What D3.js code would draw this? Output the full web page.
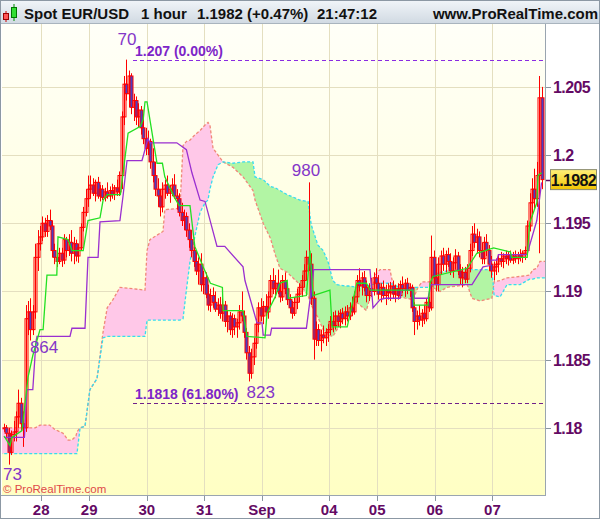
<!DOCTYPE html>
<html>
<head>
<meta charset="utf-8">
<script src="https://cdn.jsdelivr.net/npm/d3@7"></script>
<style>
body{margin:0;background:#fff;}
svg{display:block;font-family:"Liberation Sans",Arial,sans-serif;}
</style>
</head>
<body>
<svg id="chart" width="600" height="519"></svg>
<script>
// hourly bars, [open, high, low, close]
var bars = [
 [1.1800,1.1803,1.1797,1.1800],[1.1800,1.1802,1.1792,1.1796],[1.1796,1.1800,1.1773,1.1782],[1.1782,1.1798,1.1780,1.1795],
 [1.1795,1.1805,1.1790,1.1797],[1.1797,1.1812,1.1790,1.1808],[1.1808,1.1828,1.1800,1.1818],[1.1818,1.1822,1.1798,1.1803],
 [1.1803,1.1812,1.1786,1.1800],[1.1800,1.1890,1.1797,1.1880],[1.1880,1.1893,1.1868,1.1885],[1.1885,1.1895,1.1864,1.1872],
 [1.1872,1.1890,1.1868,1.1885],[1.1885,1.1935,1.1880,1.1925],[1.1925,1.1945,1.1915,1.1935],[1.1935,1.1948,1.1930,1.1940],
 [1.1940,1.1955,1.1937,1.1950],[1.1950,1.1954,1.1940,1.1944],[1.1944,1.1956,1.1940,1.1952],[1.1952,1.1960,1.1945,1.1948],
 [1.1948,1.1952,1.1925,1.1930],[1.1930,1.1935,1.1920,1.1925],[1.1925,1.1930,1.1918,1.1922],[1.1922,1.1932,1.1920,1.1928],
 [1.1928,1.1932,1.1918,1.1923],[1.1923,1.1942,1.1920,1.1938],[1.1938,1.1940,1.1925,1.1930],[1.1930,1.1942,1.1926,1.1936],
 [1.1936,1.1945,1.1922,1.1928],[1.1928,1.1940,1.1920,1.1935],[1.1935,1.1938,1.1922,1.1926],[1.1926,1.1935,1.1921,1.1932],
 [1.1932,1.1950,1.1930,1.1947],[1.1947,1.1962,1.1944,1.1958],[1.1958,1.1975,1.1955,1.1968],[1.1968,1.1985,1.1962,1.1975],
 [1.1975,1.1985,1.1968,1.1978],[1.1978,1.1983,1.1970,1.1972],[1.1972,1.1982,1.1966,1.1980],[1.1980,1.1984,1.1968,1.1970],
 [1.1970,1.1978,1.1966,1.1975],[1.1975,1.1978,1.1967,1.1969],[1.1969,1.1976,1.1966,1.1973],[1.1973,1.1980,1.1968,1.1970],
 [1.1970,1.1977,1.1966,1.1974],[1.1974,1.1979,1.1968,1.1971],[1.1971,1.1978,1.1967,1.1976],[1.1976,1.1982,1.1970,1.1973],
 [1.1973,1.1988,1.1970,1.1985],[1.1985,1.2032,1.1975,1.2028],[1.2028,1.2058,1.2022,1.2052],[1.2052,1.2070,1.2040,1.2045],
 [1.2045,1.2062,1.2035,1.2058],[1.2058,1.2060,1.2030,1.2035],[1.2035,1.2045,1.2025,1.2040],[1.2040,1.2043,1.2022,1.2028],
 [1.2028,1.2038,1.2020,1.2033],[1.2033,1.2036,1.2015,1.2020],[1.2020,1.2030,1.2008,1.2012],[1.2012,1.2020,1.2000,1.2005],
 [1.2005,1.2018,1.2000,1.2010],[1.2010,1.2012,1.1990,1.1995],[1.1995,1.2005,1.1980,1.1985],[1.1985,1.1995,1.1970,1.1975],
 [1.1975,1.1983,1.1962,1.1970],[1.1970,1.1975,1.1955,1.1962],[1.1962,1.1980,1.1958,1.1975],[1.1975,1.1982,1.1968,1.1978],
 [1.1978,1.1985,1.1970,1.1972],[1.1972,1.1978,1.1965,1.1975],[1.1975,1.1983,1.1970,1.1978],[1.1978,1.1986,1.1968,1.1970],
 [1.1970,1.1975,1.1960,1.1968],[1.1968,1.1972,1.1955,1.1958],[1.1958,1.1965,1.1948,1.1952],[1.1952,1.1960,1.1945,1.1955],
 [1.1955,1.1958,1.1940,1.1945],[1.1945,1.1950,1.1932,1.1938],[1.1938,1.1945,1.1925,1.1930],[1.1930,1.1935,1.1918,1.1922],
 [1.1922,1.1930,1.1912,1.1915],[1.1915,1.1925,1.1905,1.1920],[1.1920,1.1928,1.1900,1.1905],[1.1905,1.1915,1.1898,1.1910],
 [1.1910,1.1914,1.1895,1.1898],[1.1898,1.1905,1.1886,1.1890],[1.1890,1.1902,1.1885,1.1897],[1.1897,1.1903,1.1888,1.1892],
 [1.1892,1.1900,1.1885,1.1887],[1.1887,1.1895,1.1882,1.1890],[1.1890,1.1896,1.1880,1.1884],[1.1884,1.1895,1.1878,1.1890],
 [1.1890,1.1893,1.1874,1.1878],[1.1878,1.1886,1.1870,1.1882],[1.1882,1.1885,1.1868,1.1872],[1.1872,1.1884,1.1866,1.1880],
 [1.1880,1.1883,1.1868,1.1874],[1.1874,1.1880,1.1866,1.1877],[1.1877,1.1890,1.1872,1.1885],[1.1885,1.1900,1.1878,1.1882],
 [1.1882,1.1886,1.1866,1.1870],[1.1870,1.1873,1.1850,1.1855],[1.1855,1.1860,1.1834,1.1840],[1.1840,1.1858,1.1836,1.1852],
 [1.1852,1.1866,1.1846,1.1862],[1.1862,1.1880,1.1858,1.1876],[1.1876,1.1892,1.1870,1.1888],[1.1888,1.1895,1.1878,1.1882],
 [1.1882,1.1893,1.1876,1.1889],[1.1889,1.1898,1.1882,1.1885],[1.1885,1.1900,1.1880,1.1896],[1.1896,1.1912,1.1890,1.1908],
 [1.1908,1.1917,1.1898,1.1902],[1.1902,1.1912,1.1895,1.1906],[1.1906,1.1916,1.1898,1.1900],[1.1900,1.1908,1.1892,1.1896],
 [1.1896,1.1912,1.1893,1.1908],[1.1908,1.1914,1.1898,1.1902],[1.1902,1.1906,1.1890,1.1894],[1.1894,1.1898,1.1884,1.1888],
 [1.1888,1.1893,1.1880,1.1884],[1.1884,1.1896,1.1882,1.1892],[1.1892,1.1902,1.1887,1.1898],[1.1898,1.1906,1.1892,1.1903],
 [1.1903,1.1912,1.1896,1.1908],[1.1908,1.1920,1.1903,1.1915],[1.1915,1.1930,1.1908,1.1925],[1.1925,1.1980,1.1915,1.1920],
 [1.1920,1.1928,1.1890,1.1895],[1.1895,1.1900,1.1850,1.1865],[1.1865,1.1878,1.1860,1.1872],[1.1872,1.1876,1.1860,1.1864],
 [1.1864,1.1872,1.1856,1.1868],[1.1868,1.1875,1.1862,1.1866],[1.1866,1.1873,1.1860,1.1870],[1.1870,1.1876,1.1863,1.1872],
 [1.1872,1.1882,1.1868,1.1878],[1.1878,1.1885,1.1870,1.1875],[1.1875,1.1886,1.1872,1.1882],[1.1882,1.1886,1.1874,1.1878],
 [1.1878,1.1887,1.1873,1.1884],[1.1884,1.1888,1.1876,1.1880],[1.1880,1.1889,1.1875,1.1885],[1.1885,1.1890,1.1878,1.1882],
 [1.1882,1.1892,1.1879,1.1888],[1.1888,1.1896,1.1882,1.1885],[1.1885,1.1900,1.1883,1.1896],[1.1896,1.1912,1.1892,1.1908],
 [1.1908,1.1917,1.1900,1.1904],[1.1904,1.1914,1.1897,1.1910],[1.1910,1.1915,1.1900,1.1903],[1.1903,1.1908,1.1892,1.1897],
 [1.1897,1.1906,1.1893,1.1902],[1.1902,1.1910,1.1896,1.1900],[1.1900,1.1914,1.1897,1.1910],[1.1910,1.1917,1.1902,1.1906],
 [1.1906,1.1912,1.1894,1.1898],[1.1898,1.1906,1.1892,1.1903],[1.1903,1.1908,1.1895,1.1897],[1.1897,1.1905,1.1890,1.1901],
 [1.1901,1.1906,1.1894,1.1899],[1.1899,1.1907,1.1893,1.1904],[1.1904,1.1908,1.1895,1.1898],[1.1898,1.1905,1.1892,1.1902],
 [1.1902,1.1906,1.1894,1.1897],[1.1897,1.1908,1.1895,1.1905],[1.1905,1.1911,1.1899,1.1902],[1.1902,1.1909,1.1896,1.1906],
 [1.1906,1.1910,1.1898,1.1901],[1.1901,1.1906,1.1896,1.1903],[1.1903,1.1905,1.1885,1.1888],[1.1888,1.1892,1.1868,1.1878],
 [1.1878,1.1886,1.1872,1.1882],[1.1882,1.1890,1.1875,1.1879],[1.1879,1.1887,1.1874,1.1884],[1.1884,1.1890,1.1876,1.1880],
 [1.1880,1.1895,1.1878,1.1892],[1.1892,1.1896,1.1885,1.1888],[1.1888,1.1941,1.1886,1.1925],[1.1925,1.1930,1.1905,1.1910],
 [1.1910,1.1920,1.1900,1.1905],[1.1905,1.1925,1.1900,1.1920],[1.1920,1.1930,1.1912,1.1926],[1.1926,1.1932,1.1915,1.1920],
 [1.1920,1.1930,1.1914,1.1927],[1.1927,1.1932,1.1918,1.1922],[1.1922,1.1928,1.1912,1.1915],[1.1915,1.1925,1.1910,1.1921],
 [1.1921,1.1931,1.1916,1.1926],[1.1926,1.1929,1.1912,1.1915],[1.1915,1.1920,1.1905,1.1910],[1.1910,1.1918,1.1903,1.1914],
 [1.1914,1.1918,1.1906,1.1909],[1.1909,1.1920,1.1906,1.1917],[1.1917,1.1935,1.1914,1.1930],[1.1930,1.1948,1.1926,1.1942],
 [1.1942,1.1950,1.1932,1.1936],[1.1936,1.1946,1.1928,1.1940],[1.1940,1.1944,1.1925,1.1930],[1.1930,1.1936,1.1920,1.1924],
 [1.1924,1.1940,1.1920,1.1936],[1.1936,1.1942,1.1926,1.1930],[1.1930,1.1934,1.1915,1.1920],[1.1920,1.1926,1.1910,1.1915],
 [1.1915,1.1922,1.1908,1.1918],[1.1918,1.1924,1.1912,1.1920],[1.1920,1.1927,1.1914,1.1924],[1.1924,1.1929,1.1918,1.1922],
 [1.1922,1.1928,1.1917,1.1926],[1.1926,1.1930,1.1920,1.1924],[1.1924,1.1929,1.1919,1.1927],[1.1927,1.1930,1.1921,1.1923],
 [1.1923,1.1929,1.1920,1.1926],[1.1926,1.1930,1.1921,1.1924],[1.1924,1.1929,1.1920,1.1927],[1.1927,1.1931,1.1922,1.1925],
 [1.1925,1.1930,1.1921,1.1928],[1.1928,1.1933,1.1923,1.1930],[1.1930,1.1952,1.1928,1.1948],[1.1948,1.1972,1.1944,1.1965],
 [1.1965,1.1983,1.1955,1.1975],[1.1975,1.1990,1.1960,1.1968],[1.1968,1.1995,1.1962,1.1985],[1.1985,1.2058,1.1928,1.2042],
 [1.2042,1.2050,1.1975,1.1982]
];

// conversion line (green) and base line (purple): [bar, price] vertices
var tenkan = [
 [0,1.1794],[2.5,1.1787],[3.3,1.1793],[7.5,1.1798],[10,1.1837],[12,1.1853],[15,1.1872],[16.3,1.1872],[17.9,1.1912],
 [22,1.1912],[22.5,1.1940],[26.7,1.1938],[28.3,1.1930],[33,1.1930],[35,1.1952],[40,1.1954],[41.3,1.1967],[43,1.1971],
 [48.5,1.1971],[51.7,1.2016],[56.7,1.2021],[58,1.2026],[58.75,1.2039],[59.6,1.2039],[63.75,1.1994],[66,1.1994],
 [67,1.1984],[71,1.1969],[73,1.1963],[77.5,1.1963],[79.5,1.1933],[83,1.1918],[86,1.1906],[91,1.1903],[91.3,1.1886],
 [99.6,1.1886],[101.25,1.1867],[108.75,1.1866],[109.6,1.1884],[113,1.1896],[115,1.1906],[118,1.1908],[118.5,1.1895],
 [126,1.1897],[127.5,1.1930],[128.75,1.1897],[135.8,1.1901],[136.7,1.1874],[143,1.1874],[147,1.1906],[151,1.1906],
 [152.5,1.1901],[170.4,1.1901],[170.8,1.1890],[176.7,1.1890],[177.5,1.1906],[178.75,1.1911],[193,1.1917],[197,1.1928],
 [204,1.1932],[211,1.1929],[211.5,1.1925],[218,1.1925],[219,1.1950],[222,1.1965],[222.5,1.1985],[224,1.1987]
];
var kijun = [
 [0,1.1793],[8.5,1.1793],[9.6,1.1828],[12,1.1828],[13.3,1.1863],[13.75,1.1867],[27.5,1.1867],[28.3,1.1873],
 [33.75,1.1873],[35,1.1925],[39.2,1.1925],[40,1.1951],[48.3,1.1952],[49.6,1.1970],[51.25,1.1996],[57.5,1.1996],
 [60,1.2012],[60.8,1.2009],[72,1.2009],[76,1.2004],[78.3,1.1987],[81.7,1.1967],[83.75,1.1966],[88.75,1.1933],
 [92,1.1933],[99.6,1.1918],[100.4,1.1908],[105.4,1.1877],[107.5,1.1877],[108,1.1868],[111,1.1868],[111.5,1.1873],
 [126,1.1873],[128.75,1.1911],[129,1.1916],[152.5,1.1916],[153.75,1.1888],[156.7,1.1894],[158.75,1.1895],[165,1.1895],
 [165.5,1.1901],[170.4,1.1901],[171,1.1895],[176.7,1.1895],[177.9,1.1905],[195,1.1905],[199.6,1.1918],[202.5,1.1919],
 [203,1.1923],[205.4,1.1923],[206,1.1927],[217.9,1.1927],[222,1.1952],[224,1.1980]
];

// cloud: bar positions, leading span A (cyan) and span B (salmon)
var cloudIdx = [-2,13,15,19,21,24.6,26.7,28.3,30,30.4,31.7,33.75,35.8,38.75,41.25,43,45.4,48.3,58.75,59.6,60.8,66.25,67,
 73.3,74.6,76,77.5,79.6,81.7,83.75,85,85.8,87.1,89.2,91.25,95.4,99.6,103.75,104.6,108,111,113,115,118,123.3,126.7,128,
 130.8,133,135,137,138.75,142,144,147,149,151,153.3,154.6,156.7,160.8,162,165,170.4,172.5,174.2,177.5,178.75,181.7,
 184.6,193,195,198.3,203.3,204.2,206.7,209.6,215,219,220.4,222,223.3,227];
var spanA = [1.1781,1.1781,1.1781,1.1781,1.1781,1.1781,1.1781,1.1781,1.1781,1.1781,1.1800,1.1801,1.1828,1.1836,1.1866,
 1.1867,1.1867,1.1867,1.1867,1.1879,1.1879,1.1879,1.1879,1.1879,1.1880,1.1901,1.1922,1.1941,1.1958,1.1965,1.1967,1.1975,
 1.1984,1.1993,1.1995,1.1994,1.1995,1.1995,1.1984,1.1982,1.1977,1.1976,1.1974,1.1971,1.1967,1.1966,1.1949,1.1934,1.1930,
 1.1922,1.1908,1.1905,1.1904,1.1904,1.1903,1.1903,1.1904,1.1905,1.1905,1.1906,1.1906,1.1905,1.1903,1.1903,1.1903,1.1903,
 1.1903,1.1912,1.1914,1.1915,1.1916,1.1916,1.1916,1.1916,1.1897,1.1896,1.1905,1.1905,1.1909,1.1909,1.1910,1.1910,1.1910];
var spanB = [1.1800,1.1800,1.1802,1.1802,1.1799,1.1796,1.1791,1.1791,1.1794,1.1797,1.1800,1.1801,1.1828,1.1836,1.1870,
 1.1888,1.1894,1.1903,1.1901,1.1930,1.1938,1.1944,1.1960,1.1961,1.2007,1.2010,1.2011,1.2015,1.2018,1.2022,1.2024,1.2022,
 1.2005,1.2000,1.1995,1.1991,1.1984,1.1974,1.1967,1.1950,1.1939,1.1927,1.1917,1.1914,1.1905,1.1897,1.1890,1.1881,1.1872,
 1.1868,1.1867,1.1872,1.1881,1.1885,1.1892,1.1889,1.1886,1.1901,1.1912,1.1916,1.1916,1.1906,1.1896,1.1894,1.1903,1.1907,
 1.1907,1.1903,1.1900,1.1903,1.1905,1.1895,1.1893,1.1895,1.1907,1.1908,1.1910,1.1911,1.1912,1.1916,1.1917,1.1922,1.1922];

var priceTicks = [1.18, 1.185, 1.19, 1.195, 1.2, 1.205];
var priceTickLabels = ['1.18', '1.185', '1.19', '1.195', '1.2', '1.205'];
var dayIdx = [15.5, 35.5, 59.5, 83.5, 107.5, 135.5, 155.5, 179.5, 203.5];
var dayLabels = ['28', '29', '30', '31', 'Sep', '04', '05', '06', '07'];

var fibPrices = [1.207, 1.1818];
var fibLabels = ['1.207 (0.00%)', '1.1818 (61.80%)'];
var fibFrom = 53.75;

// swing labels: text, bar at text centre, price at text baseline
var swingText = ['70', '864', '980', '823', '73'];
var swingIdx = [51.25, 16.7, 125.8, 107, 2.9];
var swingPrice = [1.2081, 1.1855, 1.1985, 1.1822, 1.1762];

var lastPrice = 1.1982;
var headerParts = ['Spot EUR/USD', '1 hour', '1.1982 (+0.47%)', '21:47:12'];

var W = 600, H = 519,
    plotL = 2, plotR = 545, plotT = 24, plotB = 495,
    axisColor = '#640a64', fibColor = '#8a2be2';

var svg = d3.select('#chart');
var defs = svg.append('defs');

function vGrad(id, c1, c2){
	var g = defs.append('linearGradient').attr('id', id)
		.attr('x1', 0).attr('y1', 0).attr('x2', 0).attr('y2', 1);
	g.append('stop').attr('offset', '0%').attr('stop-color', c1);
	g.append('stop').attr('offset', '100%').attr('stop-color', c2);
}
vGrad('bgGrad', '#fffff8', '#ffffc4');
vGrad('hdGrad', '#f1f5f9', '#d0d9e2');
vGrad('pxGrad', '#fff07a', '#f2c400');

defs.append('clipPath').attr('id', 'plotClip')
	.append('rect').attr('x', plotL).attr('y', plotT).attr('width', plotR - plotL).attr('height', plotB - plotT);

var x = d3.scaleLinear().domain([0, 224]).range([4, 541.6]);
var y = d3.scaleLinear().domain([1.18, 1.205]).range([427.8, 86.9]);

// header
svg.append('rect').attr('x', 0).attr('y', 0).attr('width', W).attr('height', plotT).attr('fill', 'url(#hdGrad)');
svg.append('line').attr('x1', 0).attr('x2', W).attr('y1', plotT - 0.5).attr('y2', plotT - 0.5).attr('stroke', '#a9b4be');
var icon = svg.append('g');
icon.append('line').attr('x1', 6).attr('x2', 6).attr('y1', 11).attr('y2', 22).attr('stroke', '#c00');
icon.append('rect').attr('x', 3.5).attr('y', 13.5).attr('width', 5).attr('height', 6).attr('fill', '#f55').attr('stroke', '#900');
icon.append('line').attr('x1', 14).attr('x2', 14).attr('y1', 4).attr('y2', 21).attr('stroke', '#080');
icon.append('rect').attr('x', 11.5).attr('y', 7.5).attr('width', 5).attr('height', 10).attr('fill', '#3d3').attr('stroke', '#070');
var headerX = [24, 141, 197, 317];
svg.selectAll('.hd').data(headerParts).enter().append('text')
	.attr('x', function(d, k){ return headerX[k]; }).attr('y', 19)
	.attr('font-size', 15).attr('font-weight', 'bold').attr('fill', '#111').text(function(d){ return d; });
svg.append('text').attr('x', 598).attr('y', 19).attr('text-anchor', 'end')
	.attr('font-size', 15).attr('font-weight', 'bold').attr('fill', '#111').text('www.ProRealTime.com');

// plot background
svg.append('rect').attr('x', plotL).attr('y', plotT).attr('width', plotR - plotL).attr('height', plotB - plotT)
	.attr('fill', 'url(#bgGrad)');

var plot = svg.append('g').attr('clip-path', 'url(#plotClip)');

// grid
plot.selectAll('.hg').data(priceTicks).enter().append('line')
	.attr('x1', plotL).attr('x2', plotR)
	.attr('y1', function(d){ return Math.round(y(d)) + 0.5; }).attr('y2', function(d){ return Math.round(y(d)) + 0.5; })
	.attr('stroke', '#e4dfc0');
plot.selectAll('.vg').data(dayIdx).enter().append('line')
	.attr('y1', plotT).attr('y2', plotB)
	.attr('x1', function(d){ return Math.round(x(d)) + 0.5; }).attr('x2', function(d){ return Math.round(x(d)) + 0.5; })
	.attr('stroke', '#e4dfc0');

// cloud
var cloud = cloudIdx.map(function(d, k){ return {i: d, a: spanA[k], b: spanB[k]}; });
var between = d3.area().x(function(d){ return x(d.i); }).y0(function(d){ return y(d.a); }).y1(function(d){ return y(d.b); });
var aboveA = d3.area().x(function(d){ return x(d.i); }).y0(plotT - 50).y1(function(d){ return y(d.a); });
var belowA = d3.area().x(function(d){ return x(d.i); }).y0(function(d){ return y(d.a); }).y1(plotB + 50);
defs.append('clipPath').attr('id', 'clipAbove').append('path').attr('d', aboveA(cloud));
defs.append('clipPath').attr('id', 'clipBelow').append('path').attr('d', belowA(cloud));
plot.append('path').attr('d', between(cloud)).attr('fill', '#ffc8e8').attr('clip-path', 'url(#clipAbove)');
plot.append('path').attr('d', between(cloud)).attr('fill', '#b2f5a4').attr('clip-path', 'url(#clipBelow)');
var lineB = d3.line().x(function(d){ return x(d.i); }).y(function(d){ return y(d.b); });
var lineA = d3.line().x(function(d){ return x(d.i); }).y(function(d){ return y(d.a); });
plot.append('path').attr('d', lineB(cloud)).attr('fill', 'none').attr('stroke', '#f08878')
	.attr('stroke-width', 1.3).attr('stroke-dasharray', '3,2');
plot.append('path').attr('d', lineA(cloud)).attr('fill', 'none').attr('stroke', '#36dcf0')
	.attr('stroke-width', 1.3).attr('stroke-dasharray', '3,2');

// fibonacci levels
plot.selectAll('.fib').data(fibPrices).enter().append('line')
	.attr('x1', x(fibFrom)).attr('x2', plotR)
	.attr('y1', function(d){ return Math.round(y(d)) + 0.5; }).attr('y2', function(d){ return Math.round(y(d)) + 0.5; })
	.attr('stroke', function(d, k){ return k ? '#70208a' : fibColor; }).attr('stroke-dasharray', '4,3');
plot.selectAll('.fibt').data(fibLabels).enter().append('text')
	.attr('x', x(fibFrom) + 2).attr('y', function(d, k){ return y(fibPrices[k]) - 4; })
	.attr('font-size', 14).attr('font-weight', 'bold').attr('fill', '#7d25c8').text(function(d){ return d; });

// candles
var cw = 3;
var candle = plot.selectAll('.c').data(bars).enter().append('g');
candle.append('line')
	.attr('x1', function(d, k){ return Math.round(x(k)) + 0.5; }).attr('x2', function(d, k){ return Math.round(x(k)) + 0.5; })
	.attr('y1', function(d){ return y(d[1]); }).attr('y2', function(d){ return y(d[2]); })
	.attr('stroke', '#ff0000');
candle.append('rect')
	.attr('x', function(d, k){ return Math.round(x(k)) - 1; })
	.attr('y', function(d){ return y(Math.max(d[0], d[3])); })
	.attr('width', cw)
	.attr('height', function(d){ return Math.max(1, Math.abs(y(d[0]) - y(d[3]))); })
	.attr('fill', function(d){ return d[3] < d[0] ? '#4a3fc0' : 'none'; })
	.attr('stroke', '#ff0000');

// indicator lines
var vline = d3.line().x(function(d){ return x(d[0]); }).y(function(d){ return y(d[1]); });
plot.append('path').attr('d', vline(kijun)).attr('fill', 'none').attr('stroke', '#9a2fd0').attr('stroke-width', 1.3);
plot.append('path').attr('d', vline(tenkan)).attr('fill', 'none').attr('stroke', '#22e022').attr('stroke-width', 1.3);

// swing labels
svg.selectAll('.sw').data(swingText).enter().append('text')
	.attr('x', function(d, k){ return k === 4 ? plotL + 1 : x(swingIdx[k]); })
	.attr('y', function(d, k){ return y(swingPrice[k]); })
	.attr('text-anchor', function(d, k){ return k === 4 ? 'start' : 'middle'; })
	.attr('font-size', 17).attr('fill', '#8436c8').text(function(d){ return d; });

svg.append('text').attr('x', 3).attr('y', 493).attr('font-size', 11.5).attr('fill', '#e04848').text('\u00a9 ProRealTime.com');

// plot frame
svg.append('line').attr('x1', plotR + 0.5).attr('x2', plotR + 0.5).attr('y1', plotT).attr('y2', plotB + 0.5).attr('stroke', '#9aa5b0');
svg.append('line').attr('x1', 0).attr('x2', plotR + 1).attr('y1', plotB + 0.5).attr('y2', plotB + 0.5).attr('stroke', '#9aa5b0');

// right price axis
var yAxis = svg.append('g');
yAxis.selectAll('line').data(priceTicks).enter().append('line')
	.attr('x1', plotR + 1).attr('x2', plotR + 6)
	.attr('y1', function(d){ return Math.round(y(d)) + 0.5; }).attr('y2', function(d){ return Math.round(y(d)) + 0.5; })
	.attr('stroke', '#8a96a0');
yAxis.selectAll('text').data(priceTicks).enter().append('text')
	.attr('x', 553).attr('y', function(d){ return y(d) + 6; })
	.attr('font-size', 16).attr('font-weight', 'bold').attr('fill', axisColor).attr('letter-spacing', -0.6)
	.text(function(d, k){ return priceTickLabels[k]; });

// last price box
svg.append('line').attr('x1', plotR + 1).attr('x2', 551).attr('y1', Math.round(y(lastPrice)) + 0.5).attr('y2', Math.round(y(lastPrice)) + 0.5)
	.attr('stroke', axisColor).attr('stroke-width', 1.5);
svg.append('rect').attr('x', 550.5).attr('y', y(lastPrice) - 10).attr('width', 46).attr('height', 20)
	.attr('fill', 'url(#pxGrad)').attr('stroke', '#8a8a70');
svg.append('text').attr('x', 573.5).attr('y', y(lastPrice) + 6).attr('text-anchor', 'middle')
	.attr('font-size', 16).attr('font-weight', 'bold').attr('fill', '#111').attr('letter-spacing', -0.6)
	.text(d3.format('.4f')(lastPrice));

// bottom date axis
var xAxis = svg.append('g');
xAxis.selectAll('line').data(dayIdx).enter().append('line')
	.attr('x1', function(d){ return Math.round(x(d)) + 0.5; }).attr('x2', function(d){ return Math.round(x(d)) + 0.5; })
	.attr('y1', plotB + 1).attr('y2', plotB + 6).attr('stroke', '#8a96a0');
xAxis.selectAll('text').data(dayLabels).enter().append('text')
	.attr('x', function(d, k){ return x(dayIdx[k]); }).attr('y', 515).attr('text-anchor', 'middle')
	.attr('font-size', 15).attr('font-weight', 'bold').attr('fill', axisColor).text(function(d){ return d; });

// outer frame
svg.append('rect').attr('x', 0.5).attr('y', 0.5).attr('width', W - 1).attr('height', H - 1)
	.attr('fill', 'none').attr('stroke', '#8c98a4');
</script>
</body>
</html>
